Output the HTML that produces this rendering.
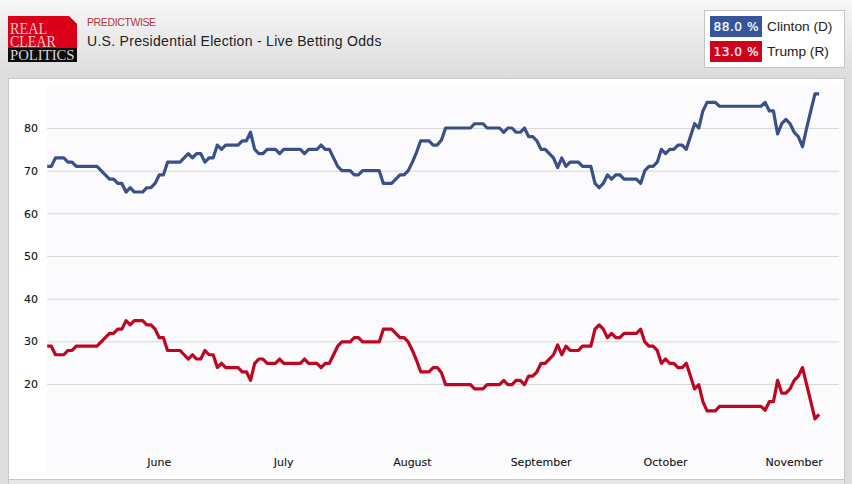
<!DOCTYPE html>
<html><head><meta charset="utf-8">
<style>
html,body{margin:0;padding:0;}
body{width:852px;height:484px;overflow:hidden;position:relative;background:#dddddd;font-family:"Liberation Sans",Arial,sans-serif;}
#hdr{position:absolute;left:0;top:0;width:852px;height:78px;background:linear-gradient(#f7f7f7,#dcdcdc);}
#logo{position:absolute;left:8px;top:16px;width:69px;height:46px;background:#da0019;clip-path:polygon(0 0,61px 0,69px 8px,69px 100%,0 100%);overflow:hidden;}
#logo .blk{position:absolute;left:0;top:32px;width:69px;height:14px;background:#0d0d0d;}
#logo .t{position:absolute;left:2px;font-family:"Liberation Serif","Times New Roman",serif;white-space:nowrap;transform-origin:0 0;line-height:1;}
#pw{position:absolute;left:87px;top:16.3px;font-size:10.5px;color:#b3363d;letter-spacing:-0.38px;}
#title{position:absolute;left:87px;top:32.8px;font-size:14px;letter-spacing:0.3px;color:#222;white-space:nowrap;}
#legend{position:absolute;left:704px;top:10px;width:139px;height:56px;background:#fff;border:1px solid #c4c4c4;}
.lg{position:absolute;left:5px;width:52px;height:21px;color:#fff;font-family:"DejaVu Sans",Verdana,sans-serif;font-size:12.2px;letter-spacing:0.5px;text-indent:0.5px;line-height:22.4px;text-align:center;-webkit-text-stroke:0.2px #fff;}
.ln{position:absolute;left:62px;font-size:13.7px;color:#222;line-height:22.4px;white-space:nowrap;}
#panel{position:absolute;left:8px;top:78px;width:835px;height:400px;background:#fff;border:1px solid #c8c8c8;}
svg{position:absolute;left:0;top:0;}
</style></head><body>
<div id="hdr"></div>
<div id="logo"><div class="blk"></div><div style="position:absolute;right:0;top:0;width:8px;height:8px;background:linear-gradient(to bottom left,transparent 50%,rgba(110,0,0,0.55) 56%,rgba(110,0,0,0) 72%)"></div>
<div class="t" style="top:5.1px;font-size:16px;color:#f5c9c9;transform:scaleX(0.89)">REAL</div>
<div class="t" style="top:17.9px;font-size:16px;color:#f5c9c9;transform:scaleX(0.874)">CLEAR</div>
<div class="t" style="top:32.6px;font-size:14px;color:#d6d6d6;transform:scaleX(1.05)">POLITICS</div>
</div>
<div id="pw">PREDICTWISE</div>
<div id="title">U.S. Presidential Election - Live Betting Odds</div>
<div id="legend">
<div class="lg" style="top:5px;background:#37559a">88.0 %</div>
<div class="ln" style="top:5px">Clinton (D)</div>
<div class="lg" style="top:30px;background:#d0021b">13.0 %</div>
<div class="ln" style="top:30px">Trump (R)</div>
</div>
<div style="position:absolute;left:8px;top:480px;width:835px;height:10px;background:#e7e7e7;border-left:1px solid #c8c8c8;border-right:1px solid #c8c8c8;"></div>
<div id="panel"></div>
<svg width="852" height="484" viewBox="0 0 852 484">
<rect x="47" y="84" width="793" height="390" fill="#fbfbfe"/>
<rect x="47" y="128.00" width="792" height="1" fill="#d8d8d8"/>
<rect x="47" y="170.67" width="792" height="1" fill="#d8d8d8"/>
<rect x="47" y="213.33" width="792" height="1" fill="#d8d8d8"/>
<rect x="47" y="256.00" width="792" height="1" fill="#d8d8d8"/>
<rect x="47" y="298.67" width="792" height="1" fill="#d8d8d8"/>
<rect x="47" y="341.34" width="792" height="1" fill="#d8d8d8"/>
<rect x="47" y="384.00" width="792" height="1" fill="#d8d8d8"/>
<g font-family="DejaVu Sans, Verdana, sans-serif" font-size="11" fill="#111" stroke="#111" stroke-width="0.1">
<text x="38" y="132.4" text-anchor="end">80</text>
<text x="38" y="175.0" text-anchor="end">70</text>
<text x="38" y="217.6" text-anchor="end">60</text>
<text x="38" y="260.2" text-anchor="end">50</text>
<text x="38" y="302.8" text-anchor="end">40</text>
<text x="38" y="345.4" text-anchor="end">30</text>
<text x="38" y="388.0" text-anchor="end">20</text>
<text x="159.25" y="466" text-anchor="middle">June</text>
<text x="283.75" y="466" text-anchor="middle">July</text>
<text x="412.40" y="466" text-anchor="middle">August</text>
<text x="541.05" y="466" text-anchor="middle">September</text>
<text x="665.55" y="466" text-anchor="middle">October</text>
<text x="794.20" y="466" text-anchor="middle">November</text>
</g>
<polyline points="47.20,166.40 51.35,166.40 55.50,157.87 59.65,157.87 63.80,157.87 67.95,162.14 72.10,162.14 76.25,166.40 80.40,166.40 84.55,166.40 88.70,166.40 92.85,166.40 97.00,166.40 101.15,170.67 105.30,174.94 109.45,179.20 113.60,179.20 117.75,183.47 121.90,183.47 126.05,192.01 130.20,187.74 134.35,192.01 138.50,192.01 142.65,192.01 146.80,187.74 150.95,187.74 155.10,183.47 159.25,174.94 163.40,174.94 167.55,162.14 171.70,162.14 175.85,162.14 180.00,162.14 184.15,157.87 188.30,153.60 192.45,157.87 196.60,153.60 200.75,153.60 204.90,162.14 209.05,157.87 213.20,157.87 217.35,145.07 221.50,149.34 225.65,145.07 229.80,145.07 233.95,145.07 238.10,145.07 242.25,140.80 246.40,140.80 250.55,132.27 254.70,149.34 258.85,153.60 263.00,153.60 267.15,149.34 271.30,149.34 275.45,149.34 279.60,153.60 283.75,149.34 287.90,149.34 292.05,149.34 296.20,149.34 300.35,149.34 304.50,153.60 308.65,149.34 312.80,149.34 316.95,149.34 321.10,145.07 325.25,149.34 329.40,149.34 333.55,157.87 337.70,166.40 341.85,170.67 346.00,170.67 350.15,170.67 354.30,174.94 358.45,174.94 362.60,170.67 366.75,170.67 370.90,170.67 375.05,170.67 379.20,170.67 383.35,183.47 387.50,183.47 391.65,183.47 395.80,179.20 399.95,174.94 404.10,174.94 408.25,170.67 412.40,162.14 416.55,152.32 420.70,140.80 424.85,140.80 429.00,140.80 433.15,145.07 437.30,145.07 441.45,139.95 445.60,128.00 449.75,128.00 453.90,128.00 458.05,128.00 462.20,128.00 466.35,128.00 470.50,128.00 474.65,123.73 478.80,123.73 482.95,123.73 487.10,128.00 491.25,128.00 495.40,128.00 499.55,128.00 503.70,132.27 507.85,128.00 512.00,128.00 516.15,132.27 520.30,132.27 524.45,128.00 528.60,136.53 532.75,136.53 536.90,140.80 541.05,149.34 545.20,149.34 549.35,153.60 553.50,157.87 557.65,167.68 561.80,157.87 565.95,166.40 570.10,162.14 574.25,162.14 578.40,162.14 582.55,166.40 586.70,166.40 590.85,166.40 595.00,183.47 599.15,187.74 603.30,183.47 607.45,174.94 611.60,179.20 615.75,174.94 619.90,174.94 624.05,179.20 628.20,179.20 632.35,179.20 636.50,179.20 640.65,183.47 644.80,170.67 648.95,166.40 653.10,166.40 657.25,162.14 661.40,149.34 665.55,153.60 669.70,149.34 673.85,149.34 678.00,145.07 682.15,145.07 686.30,149.34 690.45,136.53 694.60,123.73 698.75,128.00 702.90,110.93 707.05,102.40 711.20,102.40 715.35,102.40 719.50,106.24 723.65,106.24 727.80,106.24 731.95,106.24 736.10,106.24 740.25,106.24 744.40,106.24 748.55,106.24 752.70,106.24 756.85,106.24 761.00,106.24 765.15,102.40 769.30,110.93 773.45,110.93 777.60,133.97 781.75,123.73 785.90,119.47 790.05,123.73 794.20,132.27 798.35,136.53 802.50,146.77 806.65,128.00 810.80,110.93 814.95,93.86 819.10,93.86" fill="none" stroke="#3b5089" stroke-width="3.2" stroke-linejoin="round" stroke-linecap="butt"/>
<polyline points="47.20,346.22 51.35,346.22 55.50,354.75 59.65,354.75 63.80,354.75 67.95,350.48 72.10,350.48 76.25,346.22 80.40,346.22 84.55,346.22 88.70,346.22 92.85,346.22 97.00,346.22 101.15,341.95 105.30,337.68 109.45,333.42 113.60,333.42 117.75,329.15 121.90,329.15 126.05,320.62 130.20,324.88 134.35,320.62 138.50,320.62 142.65,320.62 146.80,324.88 150.95,324.88 155.10,329.15 159.25,337.68 163.40,337.68 167.55,350.48 171.70,350.48 175.85,350.48 180.00,350.48 184.15,354.75 188.30,359.02 192.45,354.75 196.60,359.02 200.75,359.02 204.90,350.48 209.05,354.75 213.20,354.75 217.35,367.55 221.50,363.29 225.65,367.55 229.80,367.55 233.95,367.55 238.10,367.55 242.25,371.82 246.40,371.82 250.55,380.35 254.70,363.29 258.85,359.02 263.00,359.02 267.15,363.29 271.30,363.29 275.45,363.29 279.60,359.02 283.75,363.29 287.90,363.29 292.05,363.29 296.20,363.29 300.35,363.29 304.50,359.02 308.65,363.29 312.80,363.29 316.95,363.29 321.10,367.55 325.25,363.29 329.40,363.29 333.55,354.75 337.70,346.22 341.85,341.95 346.00,341.95 350.15,341.95 354.30,337.68 358.45,337.68 362.60,341.95 366.75,341.95 370.90,341.95 375.05,341.95 379.20,341.95 383.35,329.15 387.50,329.15 391.65,329.15 395.80,333.42 399.95,337.68 404.10,337.68 408.25,341.95 412.40,350.48 416.55,360.30 420.70,371.82 424.85,371.82 429.00,371.82 433.15,367.55 437.30,367.55 441.45,372.67 445.60,384.62 449.75,384.62 453.90,384.62 458.05,384.62 462.20,384.62 466.35,384.62 470.50,384.62 474.65,388.89 478.80,388.89 482.95,388.89 487.10,384.62 491.25,384.62 495.40,384.62 499.55,384.62 503.70,380.35 507.85,384.62 512.00,384.62 516.15,380.35 520.30,380.35 524.45,384.62 528.60,376.09 532.75,376.09 536.90,371.82 541.05,363.29 545.20,363.29 549.35,359.02 553.50,354.75 557.65,344.94 561.80,354.75 565.95,346.22 570.10,350.48 574.25,350.48 578.40,350.48 582.55,346.22 586.70,346.22 590.85,346.22 595.00,329.15 599.15,324.88 603.30,329.15 607.45,337.68 611.60,333.42 615.75,337.68 619.90,337.68 624.05,333.42 628.20,333.42 632.35,333.42 636.50,333.42 640.65,329.15 644.80,341.95 648.95,346.22 653.10,346.22 657.25,350.48 661.40,363.29 665.55,359.02 669.70,363.29 673.85,363.29 678.00,367.55 682.15,367.55 686.30,363.29 690.45,376.09 694.60,388.89 698.75,384.62 702.90,401.69 707.05,410.86 711.20,410.86 715.35,410.86 719.50,406.38 723.65,406.38 727.80,406.38 731.95,406.38 736.10,406.38 740.25,406.38 744.40,406.38 748.55,406.38 752.70,406.38 756.85,406.38 761.00,406.38 765.15,410.22 769.30,401.69 773.45,401.69 777.60,380.35 781.75,393.15 785.90,393.15 790.05,388.89 794.20,380.35 798.35,376.09 802.50,367.55 806.65,384.62 810.80,401.69 814.95,418.76 819.10,414.49" fill="none" stroke="#bd0620" stroke-width="3.2" stroke-linejoin="round" stroke-linecap="butt"/>
</svg>
</body></html>
